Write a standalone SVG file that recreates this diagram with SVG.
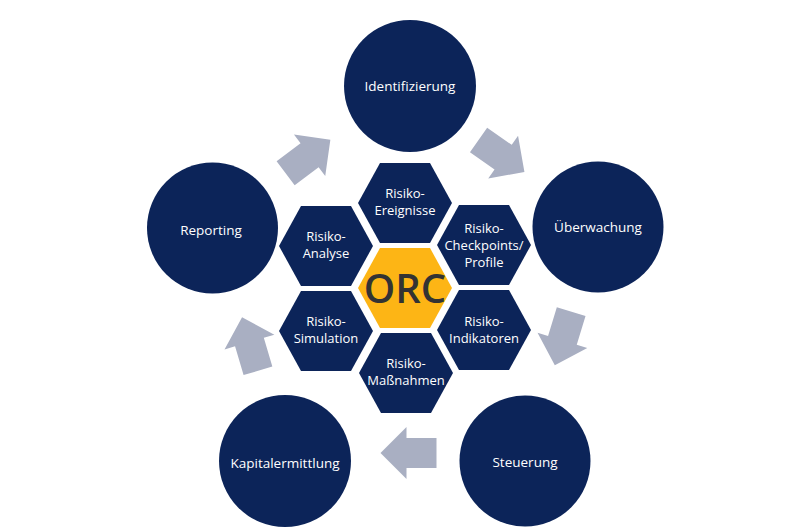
<svg xmlns="http://www.w3.org/2000/svg" width="800" height="529" viewBox="0 0 800 529">
<defs>
<style>
.circ{fill:#0c2459}
.hex{fill:#0c2459}
.core{fill:#fdb515}
.lbl{font-family:"Open Sans","Liberation Sans",sans-serif;font-size:13.5px;fill:#ffffff;text-anchor:middle}
.hl{font-family:"Open Sans","Liberation Sans",sans-serif;font-size:13px;fill:#ffffff;text-anchor:middle}
.orc{font-family:"Open Sans","Liberation Sans",sans-serif;font-size:40px;font-weight:600;fill:#333333;text-anchor:middle}
.arr{fill:#a9afc2}
</style>
<polygon id="hexshape" points="-47,0 -25,-40 25,-40 47,0 25,40 -25,40"/>
<polygon id="arrowshape" points="-28,-15 2,-15 2,-26 28,0 2,26 2,15 -28,15"/>
</defs>
<rect width="800" height="529" fill="#ffffff"/>

<g id="connectors">
<use href="#arrowshape" class="arr" transform="translate(308,156.5) rotate(-37)"/>
<use href="#arrowshape" class="arr" transform="translate(501.5,156) rotate(35)"/>
<use href="#arrowshape" class="arr" transform="translate(563,338.5) rotate(107)"/>
<use href="#arrowshape" class="arr" transform="translate(408.5,453) rotate(180)"/>
<use href="#arrowshape" class="arr" transform="translate(250,344) rotate(-106.5)"/>
</g>

<g id="identifizierung"><circle class="circ" cx="410" cy="86" r="66"/><text class="lbl" x="410" y="91">Identifizierung</text></g>
<g id="ueberwachung"><circle class="circ" cx="598" cy="227" r="65.5"/><text class="lbl" x="598" y="232">Überwachung</text></g>
<g id="steuerung"><circle class="circ" cx="525" cy="461" r="65.5"/><text class="lbl" x="525" y="467">Steuerung</text></g>
<g id="kapitalermittlung"><circle class="circ" cx="285" cy="461" r="66"/><text class="lbl" x="285" y="468">Kapitalermittlung</text></g>
<g id="reporting"><circle class="circ" cx="212.5" cy="228" r="65.5"/><text class="lbl" x="211" y="235">Reporting</text></g>

<g id="orc"><use href="#hexshape" class="core" transform="translate(405,288)"/><text class="orc" x="405" y="303">ORC</text></g>
<g id="risiko-ereignisse"><use href="#hexshape" class="hex" transform="translate(405,203)"/><text class="hl" x="405" y="198">Risiko-</text><text class="hl" x="405" y="215">Ereignisse</text></g>
<g id="risiko-analyse"><use href="#hexshape" class="hex" transform="translate(326,246)"/><text class="hl" x="326" y="241">Risiko-</text><text class="hl" x="326" y="258">Analyse</text></g>
<g id="risiko-checkpoints"><use href="#hexshape" class="hex" transform="translate(484,245)"/><text class="hl" x="484" y="233">Risiko-</text><text class="hl" x="484" y="250">Checkpoints/</text><text class="hl" x="484" y="267">Profile</text></g>
<g id="risiko-simulation"><use href="#hexshape" class="hex" transform="translate(326,331)"/><text class="hl" x="326" y="326">Risiko-</text><text class="hl" x="326" y="343">Simulation</text></g>
<g id="risiko-indikatoren"><use href="#hexshape" class="hex" transform="translate(484,330)"/><text class="hl" x="484" y="326">Risiko-</text><text class="hl" x="484" y="343">Indikatoren</text></g>
<g id="risiko-massnahmen"><use href="#hexshape" class="hex" transform="translate(406,373)"/><text class="hl" x="406" y="368">Risiko-</text><text class="hl" x="406" y="385">Maßnahmen</text></g>
</svg>
